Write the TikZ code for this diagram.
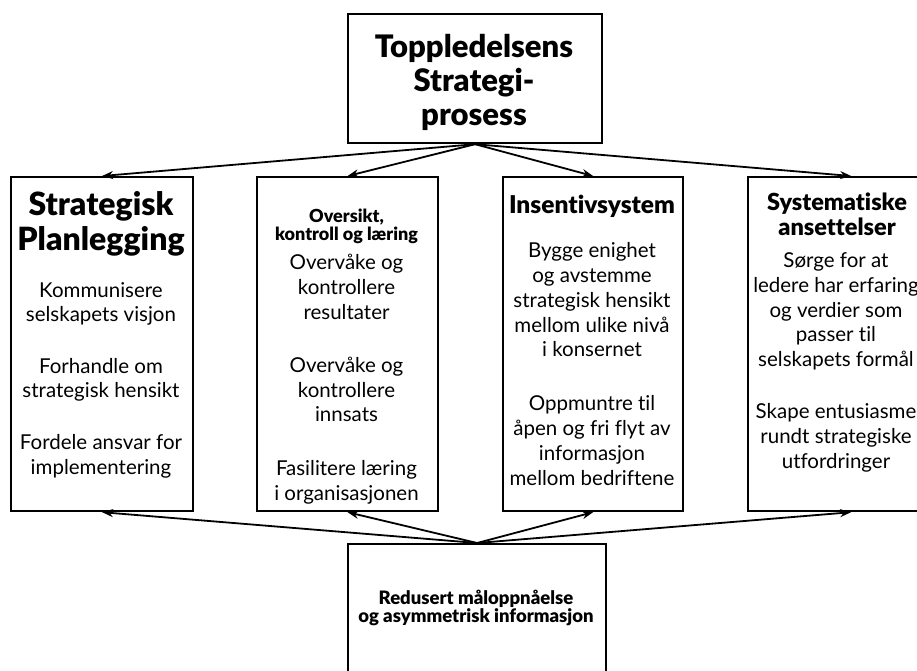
\documentclass[tikz,border=0pt]{standalone}
\usepackage{fontspec}
\setmainfont{Lato}[BoldFont={Lato Black}, Ligatures=NoCommon]
\usetikzlibrary{arrows.meta}
\begin{document}
\begin{tikzpicture}[x=1pt,y=-1pt,
  box/.style={draw, line width=2.2pt, rectangle, inner sep=0pt, anchor=north west},
  link/.style={line width=1.8pt, -{Stealth[length=11pt,width=8pt]}},
  txt/.style={align=center, inner sep=0pt, anchor=base},
  body/.style={txt, font=\fontsize{20.5}{24.8}\selectfont}]
\useasboundingbox (0,0) rectangle (917,670);
\clip (0,0) rectangle (917,670);

% boxes
\node[box, minimum width=254pt, minimum height=129pt] (top) at (347,13) {};
\node[box, minimum width=182pt, minimum height=334pt] (b1) at (10,176) {};
\node[box, minimum width=181pt, minimum height=334pt] (b2) at (256,176) {};
\node[box, minimum width=180pt, minimum height=334pt] (b3) at (502,176) {};
\node[box, minimum width=206pt, minimum height=334pt] (b4) at (747,176) {};
\node[box, minimum width=258pt, minimum height=150pt] (bot) at (347,543) {};

% connectors
\foreach \b in {b1,b2,b3,b4} {
  \draw[link] (top.south) -- (\b.north);
  \draw[link] (bot.north) -- (\b.south);
}

% titles (anchored at the baseline of their last line)
\node[txt, font=\bfseries\fontsize{31}{34}\selectfont] (ttop) at (474,125)
  {Toppledelsens\\Strategi-\\prosess};
\node[txt, font=\bfseries\fontsize{32}{35}\selectfont] (t1) at (101,250)
  {Strategisk\\Planlegging};
\node[txt, font=\bfseries\fontsize{18}{18}\selectfont] (t2) at (346.5,240)
  {Oversikt,\\kontroll og læring};
\node[txt, font=\bfseries\fontsize{24.5}{24}\selectfont] (t3) at (592,213)
  {Insentivsystem};
\node[txt, font=\bfseries\fontsize{23.5}{25}\selectfont] (t4) at (837,235)
  {Systematiske\\ansettelser};
\node[txt, font=\bfseries\fontsize{18.5}{18}\selectfont] (tbot) at (476,622)
  {Redusert måloppnåelse\\og asymmetrisk informasjon};

% box texts
\node[body] (x1) at (101,474)
  {Kommunisere\\selskapets visjon\\[26.5pt]Forhandle om\\strategisk hensikt\\[26.5pt]Fordele ansvar for\\implementering};
\node[body] (x2) at (346.5,500)
  {Overvåke og\\kontrollere\\resultater\\[28.5pt]Overvåke og\\kontrollere\\innsats\\[28.5pt]Fasilitere læring\\i organisasjonen};
\node[body] (x3) at (592,485)
  {Bygge enighet\\og avstemme\\strategisk hensikt\\mellom ulike nivå\\i konsernet\\[29pt]Oppmuntre til\\åpen og fri flyt av\\informasjon\\mellom bedriftene};
\node[body] (x4) at (836,468)
  {Sørge for at\\ledere har erfaring\\og verdier som\\passer til\\selskapets formål\\[27pt]Skape entusiasme\\rundt strategiske\\utfordringer};
\end{tikzpicture}
\end{document}
